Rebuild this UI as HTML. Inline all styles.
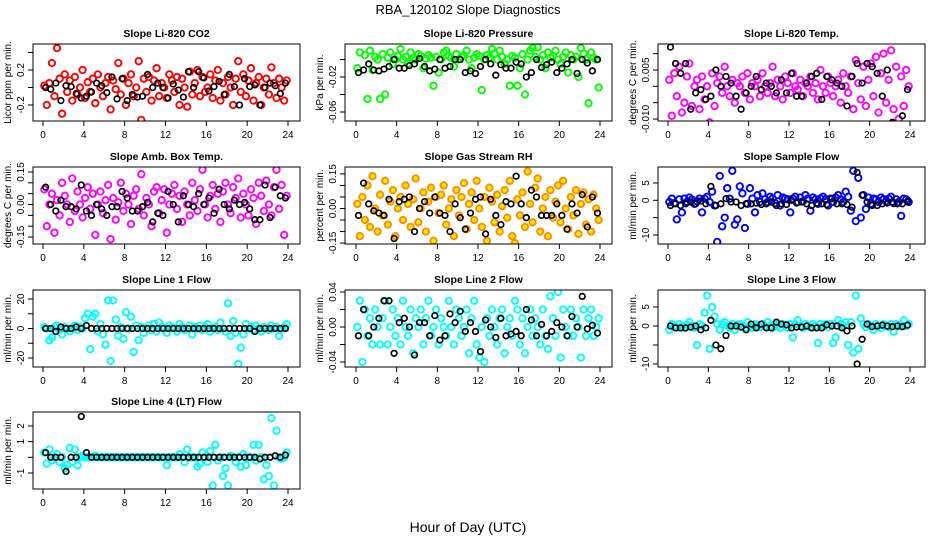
<!DOCTYPE html>
<html><head><meta charset="utf-8"><style>
html,body{margin:0;padding:0;background:#fff}
svg{display:block}
text{font-family:"Liberation Sans",Arial,sans-serif;fill:#000}
.tt{font-weight:bold;font-size:10.5px}
.tk{font-size:10px}
.yl{font-size:10px}
</style></head><body>
<svg id="chart" width="936" height="540" viewBox="0 0 936 540" xmlns="http://www.w3.org/2000/svg">
<text x="468" y="14" text-anchor="middle" font-size="13">RBA_120102  Slope Diagnostics</text>
<text x="468" y="532" text-anchor="middle" font-size="14">Hour of Day (UTC)</text>
</svg>
<script>
const xTicks=[0,4,8,12,16,20,24];
const p1Color=[0.02,-0.2,0.05,0.28,-0.1,0.45,0.1,-0.3,0.15,-0.05,0.08,-0.15,0.12,-0.08,0.0,0.2,-0.12,0.06,-0.05,0.1,-0.18,0.15,0.0,-0.1,0.05,0.12,-0.25,0.08,-0.02,0.28,-0.08,0.1,-0.2,0.05,0.15,-0.1,0.0,0.3,-0.37,0.1,-0.05,0.12,-0.15,0.08,0.22,-0.1,0.05,0.0,-0.12,0.15,0.08,-0.05,0.12,-0.2,0.1,0.0,-0.22,0.18,-0.08,0.05,0.2,-0.1,0.12,-0.05,0.0,0.15,-0.12,0.08,0.2,-0.15,0.05,-0.08,0.12,0.0,-0.2,0.1,0.3,-0.05,0.15,-0.1,0.08,0.22,-0.15,0.05,0.12,-0.2,0.0,0.1,-0.08,0.23,0.05,-0.12,0.1,0.0,-0.15,0.08];
const p1Black=[0.0,-0.02,0.05,-0.15,0.02,0.01,-0.07,-0.12,-0.1,-0.05,0.05,0.02,-0.06,0.12,-0.13,0.1,-0.15,-0.08,-0.11,-0.1,0.15,0.0,0.05,0.0,-0.12,0.04,-0.03,-0.11,0.18,0.0,0.18,0.11,-0.04,0.01,0.07,-0.08,0.15,0.01,-0.2,0.1,0.01,0.03,-0.2,0.0,0.05,0.02,-0.07,0.05];
const p2Color=[-0.01,0.008,-0.075,0.005,-0.045,0.01,-0.012,0.003,0.0,-0.045,0.006,-0.04,0.002,0.008,-0.005,0.0,0.004,0.012,0.0,0.003,-0.005,0.008,0.002,0.0,0.006,0.004,-0.01,0.001,0.005,0.002,-0.03,0.003,-0.015,0.0,0.008,0.01,0.004,0.002,-0.008,0.006,0.0,0.003,0.005,0.01,0.0,-0.01,0.002,0.006,0.004,-0.035,0.0,0.005,0.002,0.012,0.007,0.0,0.01,0.003,-0.005,0.0,-0.03,0.004,0.002,-0.03,-0.01,0.006,-0.04,0.0,0.01,0.013,0.003,0.014,0.0,0.005,-0.01,0.008,0.002,0.004,0.01,0.0,-0.005,0.003,0.008,-0.015,0.005,0.0,0.003,-0.02,0.013,0.007,0.0,-0.05,0.008,0.002,0.0,-0.032];
const p2Black=[-0.015,-0.012,-0.005,-0.012,-0.013,-0.011,-0.008,0.0,-0.01,-0.01,-0.007,-0.005,0.001,-0.008,-0.013,-0.011,0.0,-0.01,-0.008,0.0,0.0,-0.015,-0.013,-0.016,-0.008,0.0,-0.005,-0.018,-0.006,-0.01,-0.01,-0.003,-0.005,-0.02,-0.015,0.0,-0.009,-0.006,-0.003,-0.015,-0.01,-0.005,0.0,-0.016,0.0,-0.004,-0.013,0.0];
const p3Color=[0.002,-0.009,0.004,-0.003,0.006,-0.008,-0.005,0.003,0.007,-0.006,0.0,0.002,-0.007,0.003,-0.004,0.0,-0.011,0.004,-0.006,0.001,0.003,-0.002,0.006,0.0,-0.003,0.002,-0.005,0.001,0.0,0.003,-0.002,0.004,-0.004,0.001,0.0,0.002,-0.003,0.004,0.0,-0.002,0.001,0.006,-0.003,0.002,0.0,-0.004,0.003,0.001,-0.002,0.004,0.0,-0.001,0.002,-0.003,0.001,0.0,0.003,-0.002,0.001,-0.004,0.005,0.0,-0.002,0.003,0.001,-0.003,0.0,0.002,-0.005,0.004,0.0,-0.002,0.003,-0.007,0.008,0.001,-0.004,0.006,-0.006,0.002,0.007,-0.003,0.009,-0.008,0.004,0.01,-0.005,0.002,0.011,-0.007,0.006,-0.01,0.003,-0.006,0.005,0.0];
const p3Black=[0.012,0.007,0.004,0.007,-0.007,-0.002,-0.001,-0.004,-0.003,0.005,0.0,0.003,0.001,-0.003,-0.007,-0.002,0.0,0.003,-0.001,0.001,0.0,-0.002,0.002,-0.002,0.004,-0.003,-0.003,0.001,0.003,0.004,-0.004,0.003,0.002,0.001,0.0,-0.006,0.003,0.007,0.001,0.007,0.006,0.004,-0.003,0.005,-0.011,-0.012,-0.009,-0.001];
const p4Color=[0.07,-0.1,0.0,0.05,-0.13,0.02,-0.05,0.1,0.04,0.0,-0.08,0.12,-0.03,0.06,0.0,-0.06,0.03,0.08,-0.02,0.05,-0.14,0.0,0.06,-0.04,0.02,0.09,-0.16,0.03,-0.07,0.01,0.1,-0.03,0.05,0.0,-0.09,0.04,0.07,-0.02,0.14,-0.05,0.03,0.0,-0.1,0.06,0.08,-0.04,0.02,0.07,-0.13,0.0,0.05,0.09,-0.02,0.04,-0.08,0.06,0.0,-0.05,0.1,0.02,-0.03,0.07,0.16,0.0,-0.06,0.04,0.09,-0.02,0.05,-0.08,0.06,0.1,0.0,-0.04,0.08,0.03,0.12,-0.06,0.05,0.0,-0.05,0.07,0.03,-0.09,0.1,0.04,-0.03,0.11,0.0,-0.05,0.08,0.16,-0.02,0.09,-0.14,0.04];
const p4Black=[0.08,0.0,-0.03,0.02,-0.01,-0.01,-0.02,0.09,-0.03,-0.05,0.0,-0.02,-0.05,-0.01,-0.01,0.06,0.03,-0.03,-0.03,-0.01,0.01,-0.08,-0.04,-0.05,0.06,0.0,-0.08,0.04,0.0,-0.01,0.05,0.0,0.03,-0.04,0.07,0.0,-0.02,0.02,0.0,0.01,-0.02,-0.07,-0.07,0.09,-0.06,0.08,0.04,0.03];
const p5Color=[0.02,-0.12,0.05,-0.05,0.1,-0.08,0.14,0.0,-0.1,0.06,-0.03,0.12,-0.07,0.03,0.08,-0.12,0.0,0.05,-0.05,0.1,0.02,-0.08,0.04,0.13,-0.06,0.0,0.07,-0.1,0.03,0.09,-0.14,0.05,-0.02,0.06,0.1,-0.07,0.0,0.04,-0.12,0.08,-0.03,0.05,0.11,-0.09,0.02,0.07,-0.05,0.12,0.0,-0.08,0.05,-0.14,0.09,0.03,-0.06,0.06,-0.1,0.01,0.08,-0.04,0.12,-0.12,-0.15,0.04,-0.03,0.07,-0.08,0.16,0.02,-0.06,0.09,0.13,-0.1,0.0,0.05,-0.12,0.08,-0.04,0.03,0.1,-0.06,0.12,0.0,-0.09,0.05,-0.03,0.08,-0.11,0.02,0.07,-0.07,0.04,-0.1,0.06,0.0,-0.05];
const p5Black=[-0.03,0.11,0.02,-0.01,-0.02,-0.03,0.04,-0.13,0.03,0.04,0.05,-0.1,0.0,0.03,-0.02,0.05,-0.02,-0.03,-0.1,0.02,-0.04,-0.09,-0.02,0.04,0.05,-0.11,0.04,-0.03,-0.07,0.03,0.02,0.14,0.02,-0.04,0.08,0.05,-0.03,-0.03,-0.03,0.02,-0.03,-0.09,0.02,-0.02,0.06,-0.08,0.05,-0.02];
const p6Color=[-0.5,0.5,-0.8,-5.5,0.3,-3.5,0.5,-0.5,0.8,0.2,-1,-0.3,0.5,-3.5,0.5,1,-0.5,2.5,-1.5,-12,7,-7.5,-5,3.5,0.5,8.5,-7,-5.5,4,2,-8,-1,3.5,0.5,-3.5,1.5,-0.5,2,0.3,-0.5,1,0.5,-0.8,1.5,-1.5,0.8,0.5,0.3,-3.5,0.5,1,-0.5,0.8,-0.3,1.5,0.5,-3,0.8,0.3,-1,0.5,1,0.3,-1.5,0.5,-0.5,0.8,1.5,0.3,-0.5,2.5,1,-3,8.5,-6,6.5,-5,1.5,-2.5,0.8,-1,0.5,0.3,-0.5,0.8,0.3,-0.3,0.5,1,-0.8,0.3,-0.5,-4.5,0.5,0.3,-0.5];
const p6Black=[-1.5,-1,-1.5,-1,-0.5,-1,-0.2,-1,4,-1.5,-1,0.5,-0.5,-0.5,-1.5,-1,-1,-0.8,-1.2,-1,-0.5,-1.5,-1,-1.2,0,-0.8,-0.5,-1,-1.5,-0.8,-1,-1.2,0.5,-1,-1,-1.2,-2,8,1.5,-0.5,-1.5,-1.5,-1,-0.8,-0.5,-1,-1,-0.3];
const p7Color=[1,0,-8,-6,1,2,-1,-4,1,0,-2,0,2,-1,1,0,7,10,-14,8,10,-2,3,-4,-11,19,-22,19,6,-5,1,-7,11,0,8,-16,2,-8,1,-3,0,2,-1,3,-2,4,1,0,-3,2,1,0,-2,3,1,-1,0,2,-4,1,0,2,-1,1,3,-2,0,1,-1,4,0,-2,17,-5,5,-3,-24,-13,-4,3,0,1,-1,2,0,-2,1,0,-1,2,0,1,-5,0,1,3];
const p7Black=[0,0,-2,1,0,0,1,0,2,0,0,0,0,0,0,0,0,0,0,0,0,0,0,0,0,0,0,0,0,0,0,0,0,0,0,0,0,0,0,0,0,-2,0,0,0,0,0,0];
const p8Color=[0.0,0.03,-0.04,0.02,-0.01,0.01,-0.02,0.02,0.0,-0.02,0.01,0.03,-0.02,0.0,0.02,-0.01,0.01,-0.02,0.03,0.0,-0.01,0.02,-0.03,0.01,0.0,0.02,-0.02,0.01,0.03,-0.01,0.0,0.02,-0.02,0.01,0.0,-0.01,0.03,0.0,-0.02,0.02,0.01,-0.01,0.0,0.02,-0.03,0.01,0.03,-0.02,-0.035,0.0,-0.04,0.01,-0.01,0.02,0.0,-0.02,0.01,0.02,-0.03,0.0,0.01,-0.01,0.03,0.02,-0.02,0.01,-0.03,0.0,0.02,-0.01,0.01,0.0,-0.02,0.02,-0.01,-0.025,0.035,0.01,-0.01,0.04,-0.035,0.02,0.0,-0.01,0.02,-0.01,0.01,0.0,-0.035,0.02,-0.01,0.01,0.02,-0.01,0.0,0.01];
const p8Black=[-0.01,0.02,-0.01,0.0,0.01,0.03,0.03,-0.03,0.005,0.01,0.0,-0.032,0.005,0.005,-0.01,0.013,-0.015,-0.01,0.015,0.005,0.018,-0.005,0.005,-0.005,-0.028,0.008,0.0,-0.012,0.01,-0.01,-0.008,-0.005,-0.01,0.02,0.008,-0.01,0.003,-0.01,-0.005,0.005,0.0,-0.01,0.012,0.0,0.035,-0.002,0.002,-0.007];
const p9Color=[-1,0.5,0,-0.5,0.5,0,-0.5,0.3,1,0,-0.5,-5,0.5,0,3.5,8,-6,5,2.5,0.5,-1,0.5,1,0,-0.5,0.5,-1,0.3,0.5,0,-0.5,1,0,-0.5,0.5,0,-0.3,0.5,0,1,0,-0.5,0.5,0,-0.5,0.5,0.3,-0.5,0.5,-3,0.5,1.5,0,-0.5,0.5,0,-0.3,0.5,0,-4.5,0.5,0,0.5,-0.3,0.5,-4.5,-3,1.5,0.5,0,1,-5,1,-7,8,-6,2,0.5,-0.3,0.5,0,-1,0.5,0,-0.5,0.5,0,-0.3,0.5,-1.5,0.5,0,0.3,1.5,0,0.5];
const p9Black=[0,-0.5,-0.5,-0.5,-0.3,0,-1,-0.5,1.5,-5,-6,-2.5,0,0,-0.3,-1,0.5,-0.5,0.5,-0.5,-0.5,1,0.5,0.3,-0.5,-0.3,-0.3,0,-0.5,-0.5,-0.5,0.3,0,0,-0.5,-1.3,0,-10,-3.5,0.5,-0.2,0,0.2,0,-0.2,0,-0.2,0.2];
const p10Color=[0.3,-0.4,0.5,-0.2,0,0.2,-0.3,0,-0.7,-0.5,0.6,-0.3,0.5,-0.5,0,0.1,0,0,0,0,0.1,0,0,0,0,0,0,0,0,0,0,0,0,0,0,0,0,0,0,0,0,0,0,0,0,0,0,0,-0.5,0,0,0,0,0.2,0,-0.3,0.5,0,0,0,-0.6,-0.4,0.3,0,-0.3,0.4,-1.8,0.8,-0.2,0,-1.2,-0.7,-1.8,0.1,0,-0.3,0,-0.6,0.2,-0.5,0,0,0.8,-0.2,0.8,0,-1.4,-0.5,-1.2,2.5,-1.8,1.7,0,-0.1,0,0.3];
const p10Black=[0.3,0,0,0,-0.9,0,0,2.6,0.3,0,0,0,0,0,0,0,0,0,0,0,0,0,0,0,0,0,0,0,0,0,0,0,0,0,0,0,0,0,0,0,0,0,-0.1,0,0,0.1,0,0.15];
const p1Ticks=[-0.2,0,0.2,0.4], p1Labels=["-0.2","","0.2",""];
const p2Ticks=[-0.06,-0.04,-0.02,0], p2Labels=["-0.06","","-0.02",""];
const p3Ticks=[-0.01,-0.005,0,0.005,0.01], p3Labels=["-0.010","","","0.005",""];
const p4Ticks=[-0.15,-0.1,-0.05,0,0.05,0.1,0.15], p4Labels=["-0.15","","","0.00","","","0.15"];
const p5Ticks=[-0.15,-0.1,-0.05,0,0.05,0.1,0.15], p5Labels=["-0.15","","","0.00","","","0.15"];
const p6Ticks=[-10,-5,0,5], p6Labels=["-10","","0","5"];
const p7Ticks=[-20,-10,0,10,20], p7Labels=["-20","","0","","20"];
const p8Ticks=[-0.04,-0.02,0,0.02,0.04], p8Labels=["-0.04","","0.00","","0.04"];
const p9Ticks=[-10,-5,0,5], p9Labels=["-10","","0","5"];
const p10Ticks=[-1,0,1,2], p10Labels=["-1","","1","2"];

const NS="http://www.w3.org/2000/svg";
const svg=document.getElementById('chart');
const cols=[{l:33,r:300,x0:43,x24:288},{l:345,r:612,x0:356,x24:600},{l:658,r:925,x0:668,x24:910}];
const rows=[{t:44,b:121},{t:167,b:244},{t:290,b:367},{t:412,b:489}];
function mk(tag,attrs,parent){const e=document.createElementNS(NS,tag);for(const k in attrs)e.setAttribute(k,attrs[k]);(parent||svg).appendChild(e);return e;}
function panel(id,c,r,title,ylab,lo,hi,ticks,labels,colVals,blkVals,stroke,fill){
  const C=cols[c],R=rows[r];
  const xs=v=>C.x0+v/24*(C.x24-C.x0);
  const ys=v=>R.b-(v-lo)/(hi-lo)*(R.b-R.t);
  const g=mk('g',{});
  
  
  const cp=mk('clipPath',{id:'clip-'+id},g);
  mk('rect',{x:C.l,y:R.t,width:C.r-C.l,height:R.b-R.t},cp);
  const pts=mk('g',{'clip-path':'url(#clip-'+id+')'},g);
  
  
  colVals.forEach((v,i)=>{const t=(i+0.5)*24/colVals.length;
    const e=mk('circle',{cx:xs(t).toFixed(1),cy:ys(v).toFixed(1),r:3.2,fill:fill||'none',stroke:stroke,'stroke-width':1.9},pts);
    
    });
  blkVals.forEach((v,i)=>{const t=(i+0.5)*24/blkVals.length;
    const e=mk('circle',{cx:xs(t).toFixed(1),cy:ys(v).toFixed(1),r:2.8,fill:'none',stroke:'#000','stroke-width':1.7},pts);
    
    });
  const box=mk('rect',{x:C.l,y:R.t,width:C.r-C.l,height:R.b-R.t,fill:'none',stroke:'#000','stroke-width':1},g);
  
  
  const tt=mk('text',{x:(C.l+C.r)/2,y:R.t-7,'text-anchor':'middle',class:'tt'},g);tt.textContent=title;
  
  
  xTicks.forEach(v=>{const x=xs(v);mk('line',{x1:x,x2:x,y1:R.b,y2:R.b+5,stroke:'#000'},g);
    const t=mk('text',{x:x,y:R.b+17,'text-anchor':'middle',class:'tk'},g);t.textContent=v;
    
    });
  ticks.forEach((v,i)=>{const y=ys(v);if(y<R.t-1||y>R.b+1)return;mk('line',{x1:C.l-5,x2:C.l,y1:y,y2:y,stroke:'#000'},g);
    if(labels[i]){const t=mk('text',{x:0,y:0,'text-anchor':'middle',class:'tk',transform:`translate(${C.l-9},${y}) rotate(-90)`},g);t.textContent=labels[i];
    
    }});
  const yl=mk('text',{x:0,y:0,'text-anchor':'middle',class:'yl',transform:`translate(${C.l-22},${(R.t+R.b)/2}) rotate(-90)`},g);yl.textContent=ylab;
  
  
}
panel('li820-co2',0,0,'Slope Li-820 CO2','Licor ppm per min.',-0.383,0.497,p1Ticks,p1Labels,p1Color,p1Black,'#ff0000');
panel('li820-pressure',1,0,'Slope Li-820 Pressure','kPa per min.',-0.0703,0.0177,p2Ticks,p2Labels,p2Color,p2Black,'#00ff00');
panel('li820-temp',2,0,'Slope Li-820 Temp.','degrees C per min.',-0.0106,0.01295,p3Ticks,p3Labels,p3Color,p3Black,'#ff00ff');
panel('amb-box-temp',0,1,'Slope Amb. Box Temp.','degrees C per min.',-0.182,0.173,p4Ticks,p4Labels,p4Color,p4Black,'#ff00ff');
panel('gas-stream-rh',1,1,'Slope Gas Stream RH','percent per min.',-0.154,0.180,p5Ticks,p5Labels,p5Color,p5Black,'#ff8c00','#ffee00');
panel('sample-flow',2,1,'Slope Sample Flow','ml/min per min.',-12.6,9.6,p6Ticks,p6Labels,p6Color,p6Black,'#0000ff');
panel('line1-flow',0,2,'Slope Line 1 Flow','ml/min per min.',-26.1,26.1,p7Ticks,p7Labels,p7Color,p7Black,'#00ffff');
panel('line2-flow',1,2,'Slope Line 2 Flow','ml/min per min.',-0.0457,0.0423,p8Ticks,p8Labels,p8Color,p8Black,'#00ffff');
panel('line3-flow',2,2,'Slope Line 3 Flow','ml/min per min.',-10.8,9.47,p9Ticks,p9Labels,p9Color,p9Black,'#00ffff');
panel('line4-flow',0,3,'Slope Line 4 (LT) Flow','ml/min per min.',-2.02,2.89,p10Ticks,p10Labels,p10Color,p10Black,'#00ffff');
</script>
</body></html>
